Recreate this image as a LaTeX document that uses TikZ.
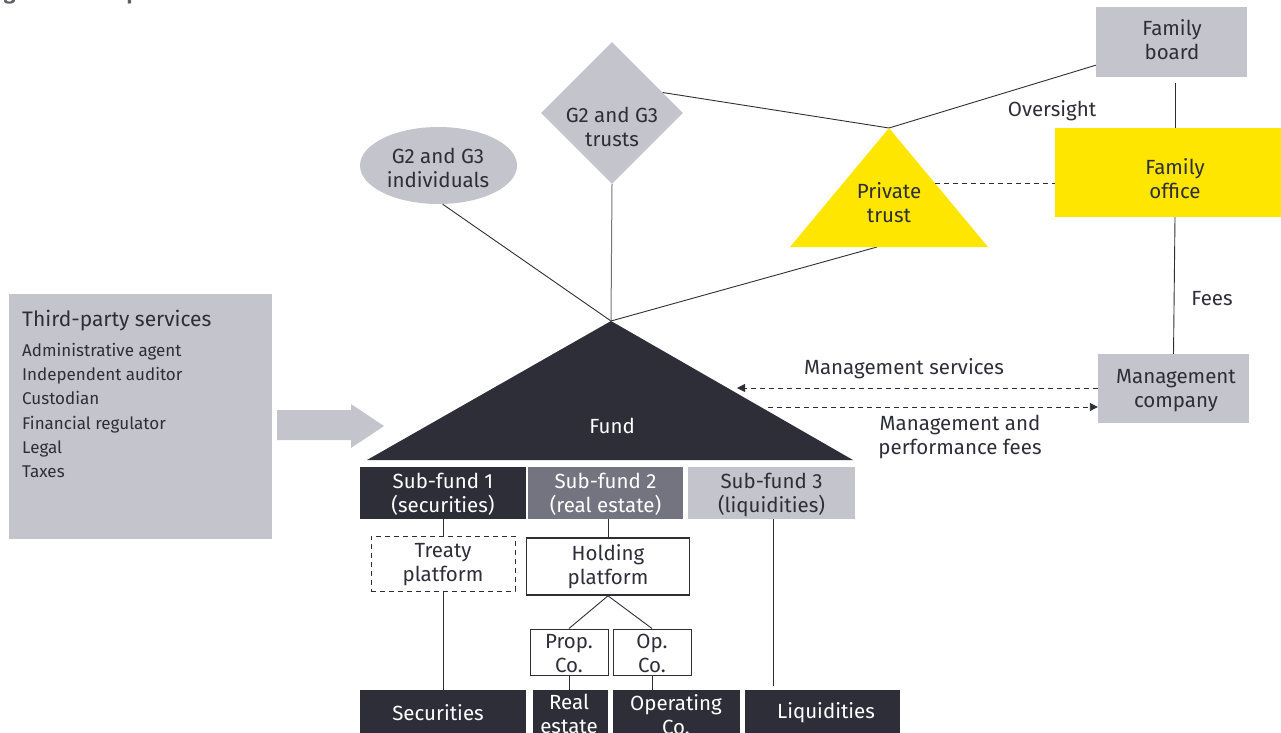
\documentclass[tikz,border=0pt]{standalone}
\usepackage{fontspec}
\setmainfont{Fira Sans}
\usetikzlibrary{shapes.geometric,arrows.meta,calc}
\definecolor{eydark}{HTML}{2E2E38}
\definecolor{eygray}{HTML}{C4C4CD}
\definecolor{eymid}{HTML}{747480}
\definecolor{eyyellow}{HTML}{FFE600}
\definecolor{titlegray}{HTML}{5F5F6B}
\newcommand{\mainsz}{\fontsize{20.5}{24}\selectfont}
\newcommand{\listsz}{\fontsize{17}{24.2}\selectfont}
\tikzset{
  every node/.style={text=eydark},
  boxnode/.style={rectangle, inner sep=0pt, align=center, font=\mainsz},
  txt/.style={inner sep=0pt, align=center, font=\mainsz},
  conn/.style={draw=eydark, line width=0.9pt},
  dashconn/.style={draw=eydark, line width=0.9pt, dash pattern=on 5pt off 4pt},
  tip/.style={-{Triangle[length=8pt,width=8pt]}},
}
\begin{document}
\begin{tikzpicture}[x=1pt,y=-1pt]
\useasboundingbox (0,0) rectangle (1281,732);
% title (cut at top, as in the source)
\node[anchor=base west, inner sep=0pt, font=\fontsize{21}{24}\selectfont\bfseries, text=titlegray] (title) at (-12,-1) {Figure 22: Complex investment tax structure};

% top right
\node[boxnode, fill=eygray, minimum width=151, minimum height=70] (board) at (1171.5,42) {};
\node[txt] (boardtxt) at (1172,39.5) {Family\\board};
\node[boxnode, fill=eyyellow, minimum width=230, minimum height=89] (office) at (1170,172.5) {};
\node[txt] (officetxt) at (1175,179) {Family\\office};
\node[boxnode, fill=eygray, minimum width=151, minimum height=69] (mgmt) at (1173.5,388.5) {};
\node[txt] (mgmttxt) at (1176,391) {Management\\company};
\node[txt] (oversight) at (1052,111) {Oversight};
\node[txt] (fees) at (1212,299) {Fees};

% private trust triangle
\coordinate (ptop) at (889,128);
\coordinate (pbl) at (790,247);
\coordinate (pbr) at (988,247);
\coordinate (pline) at (877,247);
\coordinate (boardpt) at ($(board.south west)+(0,-12)$);

% G2 G3 nodes
\node[ellipse, fill=eygray, minimum width=157, minimum height=77, inner sep=0pt] (indiv) at (438.5,165.5) {};
\node[txt] (indivtxt) at (438,168) {G2 and G3\\individuals};
\node[diamond, fill=eygray, minimum width=142, minimum height=142, inner sep=0pt] (trusts) at (612,113) {};
\node[txt] (truststxt) at (612,127) {G2 and G3\\trusts};

% fund
\coordinate (ftop) at (611,321);
\coordinate (fbl) at (367,460);
\coordinate (fbr) at (853,460);

% connectors (behind shapes)
\draw[conn] (indiv.-84) -- (ftop);
\draw[draw=eymid, line width=1pt] (trusts.south) -- (ftop);
\draw[conn] (pline) -- (ftop);
\draw[conn] (trusts.22) -- (ptop);
\draw[conn] (ptop) -- (boardpt);
\draw[conn] ($(board.south)+(3.5,6)$) -- ($(office.north)+(5,0)$);
\draw[conn] ($(office.south)+(5,0)$) -- (mgmt.north);

\fill[eyyellow] (ptop) -- (pbr) -- (pbl) -- cycle;
\node[txt] (ptxt) at (889,203) {Private\\trust};
\coordinate (pright) at (935,183);
\draw[dashconn] (pright) -- (office.west |- pright);

\fill[eydark] (ftop) -- (fbr) -- (fbl) -- cycle;
\node[txt, text=white] (fundtxt) at (612,426) {Fund};

% management arrows
\coordinate (msend) at (737,388);
\coordinate (mfstart) at (768,407);
\draw[dashconn, tip] (mgmt.west |- msend) -- (msend);
\draw[dashconn, tip] (mfstart) -- (mgmt.west |- mfstart);
\node[txt] (mslabel) at (904,369) {Management services};
\node[txt] (mflabel) at (960,436.5) {Management and\\performance fees};

% third-party services
\node[rectangle, fill=eygray, minimum width=263, minimum height=245, inner sep=0pt] (third) at (140.5,416.5) {};
\node[anchor=west, inner sep=0pt, font=\fontsize{21}{24}\selectfont] (thirdhead) at (22,321) {Third-party services};
\node[anchor=north west, inner sep=0pt, align=left, font=\listsz] (thirdlist) at (22,343) {Administrative agent\\Independent auditor\\Custodian\\Financial regulator\\Legal\\Taxes};
\fill[eygray] (277,410) -- (351,410) -- (351,404) -- (384,426) -- (351,448) -- (351,440) -- (277,440) -- cycle;

% sub-funds
\node[boxnode, fill=eydark, minimum width=166, minimum height=52] (sf1) at (443,493) {};
\node[txt, text=white] (sf1txt) at (443,494.5) {Sub-fund 1\\(securities)};
\node[boxnode, fill=eymid, minimum width=155, minimum height=52] (sf2) at (605.5,493) {};
\node[txt, text=white] (sf2txt) at (605.5,494.5) {Sub-fund 2\\(real estate)};
\node[boxnode, fill=eygray, minimum width=167, minimum height=52] (sf3) at (771.5,493) {};
\node[txt] (sf3txt) at (771.5,494.5) {Sub-fund 3\\(liquidities)};

\node[boxnode, draw=eydark, line width=1pt, dash pattern=on 5pt off 4pt, minimum width=144, minimum height=55] (treaty) at (443,563.5) {};
\node[txt] (treatytxt) at (443,565) {Treaty\\platform};
\node[boxnode, draw=eydark, line width=1.6pt, minimum width=163, minimum height=57] (holding) at (608,566.5) {};
\node[txt] (holdingtxt) at (608,567) {Holding\\platform};
\node[boxnode, draw=eydark, line width=1pt, minimum width=78, minimum height=46] (prop) at (569,652) {};
\node[txt] (proptxt) at (569,653.5) {Prop.\\Co.};
\node[boxnode, draw=eydark, line width=1pt, minimum width=78, minimum height=46] (opco) at (652,652) {};
\node[txt] (opcotxt) at (652,653.5) {Op.\\Co.};

\node[boxnode, fill=eydark, minimum width=166, minimum height=50] (sec) at (443,715) {};
\node[txt, text=white] (sectxt) at (438,713) {Securities};
\node[boxnode, fill=eydark, minimum width=75, minimum height=50] (re) at (570.5,715) {};
\node[txt, text=white, anchor=north] (retxt) at (569,694) {Real\\estate};
\node[boxnode, fill=eydark, minimum width=127, minimum height=50] (opc) at (676.5,715) {};
\node[txt, text=white, anchor=north] (opctxt) at (676,694) {Operating\\Co.};
\node[boxnode, fill=eydark, minimum width=155, minimum height=50] (liq) at (822.5,715) {};
\node[txt, text=white] (liqtxt) at (826,712.5) {Liquidities};

\draw[conn] (sf1.south) -- (treaty.north);
\draw[conn] (treaty.south) -- (sec.north);
\draw[conn] (sf2.south -| holding.north) -- (holding.north);
\draw[conn] (holding.south) -- (prop.north);
\draw[conn] (holding.south) -- (opco.north);
\draw[conn] (prop.south) -- (prop.south |- re.north);
\draw[conn] (opco.south) -- (opco.south |- opc.north);
\draw[conn] ($(sf3.south)+(2,0)$) -- ($(sf3.south |- liq.north)+(2,-4)$);
\end{tikzpicture}
\end{document}
